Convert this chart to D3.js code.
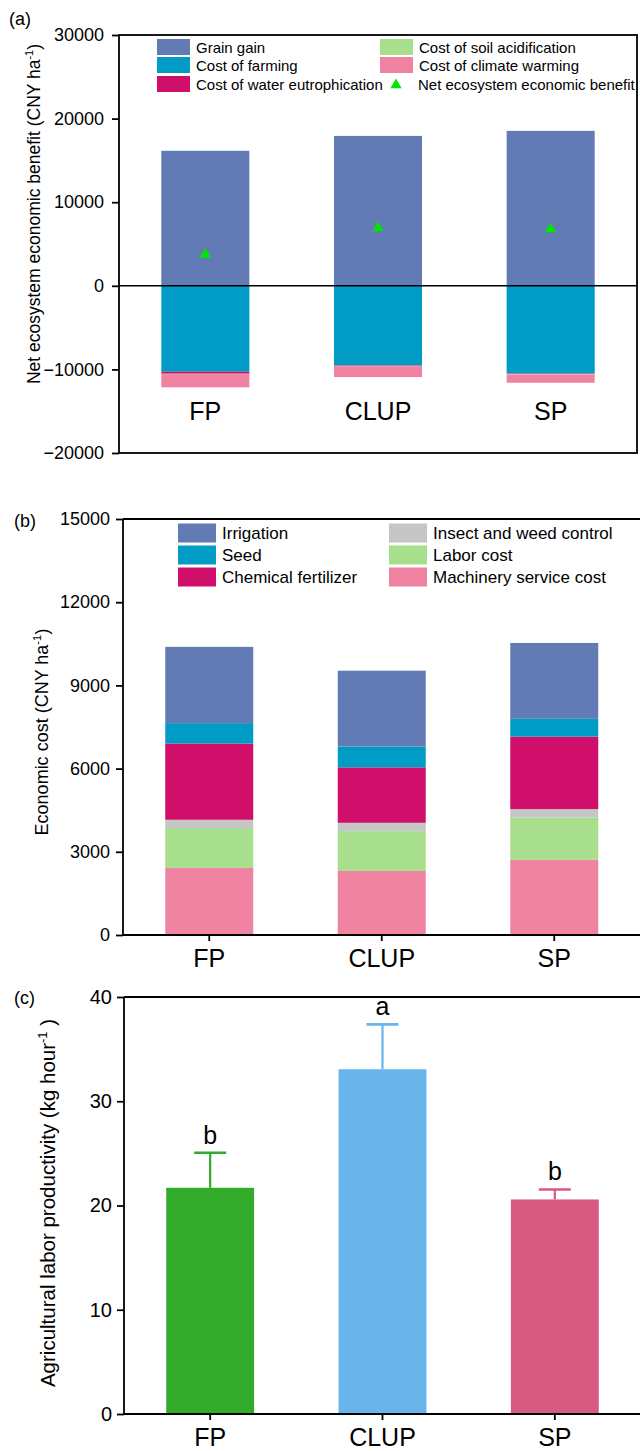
<!DOCTYPE html>
<html>
<meta charset="utf-8">
<title>NEEB, economic cost and labor productivity</title>
<style>
  body { margin: 0; background: #fff; }
  svg { display: block; font-family: "Liberation Sans", Arial, sans-serif; }
  .axis path, .axis line { stroke: #000; stroke-width: 1.8; }
  .axis text { font-size: 18px; fill: #000; }
  .axis.big text { font-size: 20px; }
  .legend text { font-size: 15px; }
</style>
<body>
<div id="chart"></div>
<script src="https://d3js.org/d3.v7.min.js"></script>
<script>

// ---- data ----
const categories = ['FP', 'CLUP', 'SP'];

// (a) net ecosystem economic benefit, CNY ha-1
const grainGain = [16150, 17930, 18530];
const costFarming = [10280, 9520, 10500];
const costEutrophication = [240, 60, 40];
const costAcidification = [40, 30, 60];
const costWarming = [1590, 1310, 1000];
const netBenefit = [3750, 6900, 6780];
const ticksA = [-20000, -10000, 0, 10000, 20000, 30000];

// (b) economic cost, CNY ha-1
const irrigation = [2750, 2735, 2735];
const seed = [735, 750, 640];
const fertilizer = [2750, 2000, 2615];
const insectWeed = [300, 300, 300];
const laborCost = [1435, 1435, 1530];
const machinery = [2420, 2310, 2710];
const ticksB = [0, 3000, 6000, 9000, 12000, 15000];

// (c) agricultural labor productivity, kg hour-1
const laborProd = [21.7, 33.07, 20.58];
const laborProdSE = [3.36, 4.3, 0.96];
const sigLetters = ['b', 'a', 'b'];
const ticksC = [0, 10, 20, 30, 40];

const W = 640, H = 1451;
const svg = d3.select('#chart').append('svg')
  .attr('width', W).attr('height', H);

function panelLabel(txt, x, y) {
  svg.append('text').attr('x', x).attr('y', y)
    .style('font-size', '18px').text(txt);
}

function yTitle(x, y, size, main, unit, after) {
  const t = svg.append('text')
    .attr('transform', `translate(${x},${y}) rotate(-90)`)
    .attr('text-anchor', 'middle')
    .style('font-size', size + 'px');
  t.append('tspan').text(main + ' (' + unit);
  t.append('tspan').attr('dy', -size * 0.4).style('font-size', (size * 0.63) + 'px').text('-1');
  t.append('tspan').attr('dy', size * 0.4).text(after);
}

function catLabels(x, y, g) {
  g.selectAll('.cat').data(categories).join('text')
    .attr('class', 'cat')
    .attr('x', d => x(d) + x.bandwidth() / 2)
    .attr('y', y)
    .attr('text-anchor', 'middle')
    .style('font-size', '25px')
    .text(d => d);
}

// ================= (a) =================
const xA = d3.scaleBand().domain(categories).range([119, 637])
  .paddingInner(0.49).paddingOuter(0.245);
const yA = d3.scaleLinear().domain([-20000, 30000]).range([453, 35]);

const gA = svg.append('g');
const rowsA = categories.map((c, i) => ({
  cat: c,
  grain: grainGain[i],
  farming: -costFarming[i],
  eutro: -costEutrophication[i],
  acid: -costAcidification[i],
  warming: -costWarming[i]
}));
const keysA = ['grain', 'farming', 'eutro', 'acid', 'warming'];
const colorA = {
  grain: '#637bb5', farming: '#009cc5', eutro: '#cf0f6a',
  acid: '#a7df8d', warming: '#f083a2'
};
const stackA = d3.stack().keys(keysA).offset(d3.stackOffsetDiverging)(rowsA);

gA.selectAll('.layer').data(stackA).join('g')
  .attr('fill', d => colorA[d.key])
  .selectAll('rect').data(d => d).join('rect')
  .attr('x', d => xA(d.data.cat))
  .attr('width', xA.bandwidth())
  .attr('y', d => yA(Math.max(d[0], d[1])))
  .attr('height', d => Math.abs(yA(d[0]) - yA(d[1])));

// zero line
gA.append('line')
  .attr('x1', xA.range()[0]).attr('x2', xA.range()[1])
  .attr('y1', yA(0)).attr('y2', yA(0))
  .attr('stroke', '#000').attr('stroke-width', 1.6);

// net benefit triangles
gA.selectAll('.tri').data(netBenefit).join('path')
  .attr('d', d3.symbol(d3.symbolTriangle, 55))
  .attr('transform', (d, i) => `translate(${xA(categories[i]) + xA.bandwidth() / 2},${yA(d)})`)
  .attr('fill', '#00e600');

// frame
gA.append('rect')
  .attr('x', 119).attr('y', 35).attr('width', 637 - 119).attr('height', 453 - 35)
  .attr('fill', 'none').attr('stroke', '#000').attr('stroke-width', 1.8);

gA.append('g').attr('class', 'axis')
  .attr('transform', 'translate(119,0)')
  .call(d3.axisLeft(yA).tickValues(ticksA).tickSize(7).tickPadding(8).tickFormat(d3.format('d')))
  .call(g => g.select('.domain').remove());

catLabels(xA, 420, gA);

// legend (a)
const legA = svg.append('g').attr('class', 'legend');
const legItemsA = [
  { name: 'Grain gain', key: 'grain', x: 157, y: 47 },
  { name: 'Cost of farming', key: 'farming', x: 157, y: 65 },
  { name: 'Cost of water eutrophication', key: 'eutro', x: 157, y: 84 },
  { name: 'Cost of soil acidification', key: 'acid', x: 380, y: 47 },
  { name: 'Cost of climate warming', key: 'warming', x: 380, y: 65 }
];
legItemsA.forEach(d => {
  legA.append('rect').attr('x', d.x).attr('y', d.y - 8)
    .attr('width', 33).attr('height', 16).attr('fill', colorA[d.key]);
  legA.append('text').attr('x', d.x + 39).attr('y', d.y + 5.5).text(d.name);
});
legA.append('path')
  .attr('d', d3.symbol(d3.symbolTriangle, 55))
  .attr('transform', 'translate(396,85)')
  .attr('fill', '#00e600');
legA.append('text').attr('x', 418).attr('y', 89.5).text('Net ecosystem economic benefit');

panelLabel('(a)', 9, 25);
yTitle(40, 214, 17.5, 'Net ecosystem economic benefit', 'CNY ha', ')');

// ================= (b) =================
const xB = d3.scaleBand().domain(categories).range([123, 640.5])
  .paddingInner(0.49).paddingOuter(0.245);
const yB = d3.scaleLinear().domain([0, 15000]).range([935, 519]);
const gB = svg.append('g');

const rowsB = categories.map((c, i) => ({
  cat: c,
  machinery: machinery[i],
  labor: laborCost[i],
  insect: insectWeed[i],
  fertilizer: fertilizer[i],
  seed: seed[i],
  irrigation: irrigation[i]
}));
const keysB = ['machinery', 'labor', 'insect', 'fertilizer', 'seed', 'irrigation'];
const colorB = {
  irrigation: '#637bb5', seed: '#009cc5', fertilizer: '#cf0f6a',
  insect: '#c6c6c6', labor: '#a7df8d', machinery: '#f083a2'
};
const stackB = d3.stack().keys(keysB)(rowsB);

gB.selectAll('.layer').data(stackB).join('g')
  .attr('fill', d => colorB[d.key])
  .selectAll('rect').data(d => d).join('rect')
  .attr('x', d => xB(d.data.cat))
  .attr('width', xB.bandwidth())
  .attr('y', d => yB(d[1]))
  .attr('height', d => yB(d[0]) - yB(d[1]));

gB.append('line').attr('x1', 123).attr('x2', 640).attr('y1', 519).attr('y2', 519)
  .attr('stroke', '#000').attr('stroke-width', 1.8);

gB.append('g').attr('class', 'axis')
  .attr('transform', 'translate(123,0)')
  .call(d3.axisLeft(yB).tickValues(ticksB).tickSize(7).tickPadding(6).tickFormat(d3.format('d')))
  .call(g => g.select('.domain').attr('d', 'M0,935V519'));

gB.append('g').attr('class', 'axis')
  .attr('transform', 'translate(0,935)')
  .call(d3.axisBottom(xB).tickSize(6).tickFormat(''))
  .call(g => g.select('.domain').attr('d', 'M123,0H640'));

catLabels(xB, 967, gB);

const legB = svg.append('g').attr('class', 'legend');
const legItemsB = [
  { name: 'Irrigation', key: 'irrigation', x: 178, y: 533 },
  { name: 'Seed', key: 'seed', x: 178, y: 555 },
  { name: 'Chemical fertilizer', key: 'fertilizer', x: 178, y: 577 },
  { name: 'Insect and weed control', key: 'insect', x: 389, y: 533 },
  { name: 'Labor cost', key: 'labor', x: 389, y: 555 },
  { name: 'Machinery service cost', key: 'machinery', x: 389, y: 577 }
];
legItemsB.forEach(d => {
  legB.append('rect').attr('x', d.x).attr('y', d.y - 9.5)
    .attr('width', 38).attr('height', 19).attr('fill', colorB[d.key]);
  legB.append('text').attr('x', d.x + 44).attr('y', d.y + 6)
    .style('font-size', '17px').text(d.name);
});

panelLabel('(b)', 14, 527);
yTitle(48, 732, 18, 'Economic cost', 'CNY ha', ')');

// ================= (c) =================
const xC = d3.scaleBand().domain(categories).range([124, 641])
  .paddingInner(0.49).paddingOuter(0.245);
const yC = d3.scaleLinear().domain([0, 40]).range([1414, 997]);
const colorC = ['#32aa2a', '#6ab4ec', '#d65a82'];
const gC = svg.append('g');

// error bars
categories.forEach((c, i) => {
  const cx = xC(c) + xC.bandwidth() / 2;
  const top = yC(laborProd[i] + laborProdSE[i]);
  gC.append('line').attr('x1', cx).attr('x2', cx)
    .attr('y1', yC(laborProd[i])).attr('y2', top)
    .attr('stroke', colorC[i]).attr('stroke-width', 2.2);
  gC.append('line').attr('x1', cx - 16).attr('x2', cx + 16)
    .attr('y1', top).attr('y2', top)
    .attr('stroke', colorC[i]).attr('stroke-width', 2.6);
  gC.append('text').attr('x', cx).attr('y', top - 9)
    .attr('text-anchor', 'middle').style('font-size', '25px')
    .text(sigLetters[i]);
});

gC.selectAll('.bar').data(laborProd).join('rect')
  .attr('x', (d, i) => xC(categories[i]))
  .attr('width', xC.bandwidth())
  .attr('y', d => yC(d))
  .attr('height', d => yC(0) - yC(d))
  .attr('fill', (d, i) => colorC[i]);

gC.append('line').attr('x1', 124).attr('x2', 640).attr('y1', 997).attr('y2', 997)
  .attr('stroke', '#000').attr('stroke-width', 1.8);

gC.append('g').attr('class', 'axis big')
  .attr('transform', 'translate(124,0)')
  .call(d3.axisLeft(yC).tickValues(ticksC).tickSize(7).tickPadding(5))
  .call(g => g.select('.domain').attr('d', 'M0,1414V997'));

gC.append('g').attr('class', 'axis')
  .attr('transform', 'translate(0,1414)')
  .call(d3.axisBottom(xC).tickSize(6).tickFormat(''))
  .call(g => g.select('.domain').attr('d', 'M124,0H640'));

catLabels(xC, 1446, gC);

panelLabel('(c)', 14, 1004);
yTitle(55, 1203, 20.5, 'Agricultural labor productivity', 'kg hour', ' )');

</script>
</body>
</html>
